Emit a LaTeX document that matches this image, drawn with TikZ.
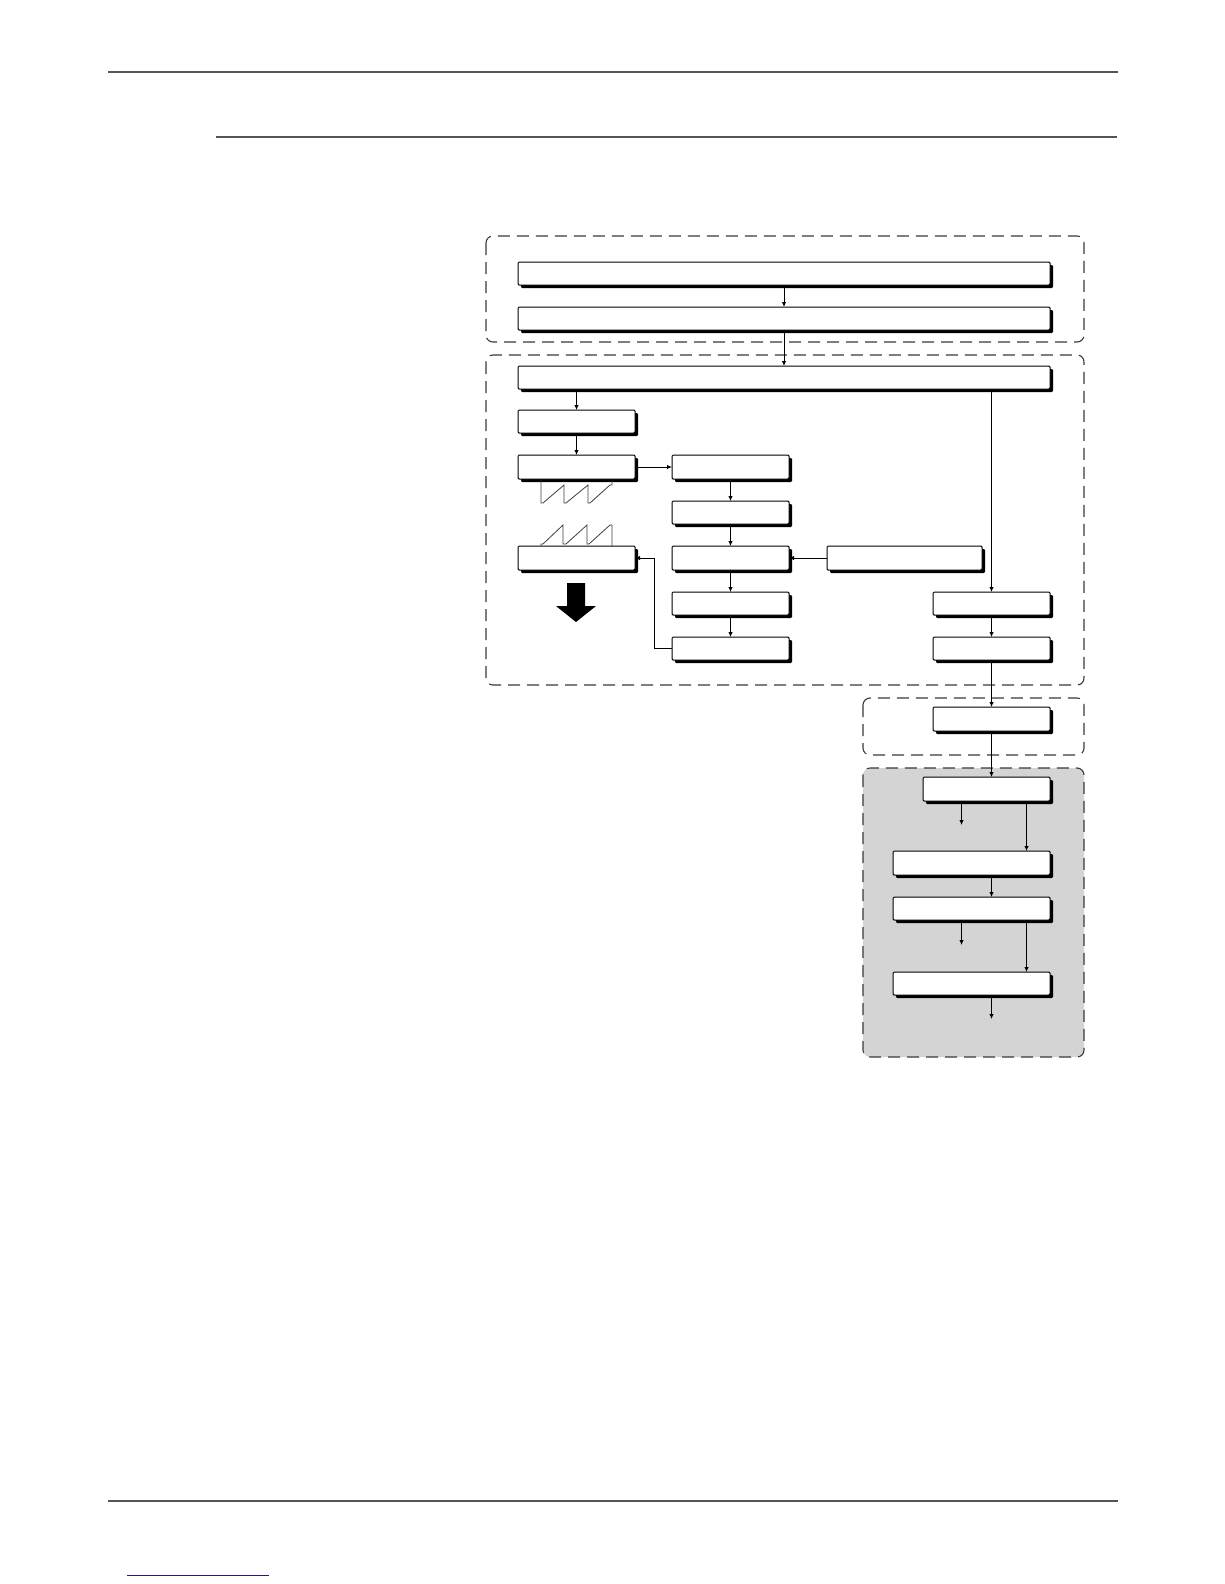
\documentclass[tikz,border=0pt]{standalone}
\usetikzlibrary{arrows.meta,shadows}
\definecolor{rulegray}{HTML}{555555}
\definecolor{dashgray}{HTML}{3A3A3A}
\definecolor{panelgray}{HTML}{D4D4D4}
\definecolor{linkblue}{HTML}{1A1A8C}
\tikzset{
  box/.style={draw=black, fill=white, line width=1pt, rounded corners=1.2pt,
    inner sep=0pt, outer sep=0pt,
    drop shadow={shadow xshift=3pt, shadow yshift=-3pt, fill=black, opacity=1}},
  group/.style={draw=dashgray, line width=1.1pt, dash pattern=on 12pt off 7pt, rounded corners=7pt},
  conn/.style={draw=black, line width=0.9pt, -{Latex[length=5pt,width=4.5pt]}},
  wave/.style={draw=black!75, line width=0.8pt, line join=miter},
  rule/.style={draw=rulegray, line width=2pt}
}
\newcommand\bx[5]{\node[box,minimum width={#4-#2},minimum height={#5-#3}] (#1) at ({(#2+#4)/2},{(#3+#5)/2}) {};}
\begin{document}
\begin{tikzpicture}[x=1pt,y=-1pt]
\useasboundingbox (0,0) rectangle (1224,1584);
\fill[white] (0,0) rectangle (1224,1584);

% page rules
\draw[rule] (108,72) -- (1118,72);
\draw[rule] (216,137) -- (1117,137);
\draw[rule] (108,1501) -- (1118,1501);
\draw[draw=linkblue, line width=1pt] (127,1575) -- (269,1575);

% dashed groups
\draw[group] (486,236) rectangle (1084,342);
\draw[group] (486,355) rectangle (1084,685);
\draw[group] (863,698) rectangle (1084,755);
\draw[group, fill=panelgray] (863,768) rectangle (1084,1057);

% boxes
\bx{A}{518}{262}{1050}{285}
\bx{B}{518}{307}{1050}{330}
\bx{C}{518}{366}{1050}{389}
\bx{D}{518}{410}{635}{433}
\bx{E}{518}{455}{635}{479}
\bx{F}{672}{455}{789}{479}
\bx{G}{672}{501}{789}{524}
\bx{H}{672}{546}{789}{570}
\bx{I}{672}{592}{789}{615}
\bx{J}{672}{637}{789}{660}
\bx{K}{827}{546}{982}{570}
\bx{L}{518}{546}{635}{570}
\bx{M}{933}{592}{1050}{615}
\bx{N}{933}{637}{1050}{660}
\bx{O}{933}{707}{1050}{731}
\bx{P}{923}{777}{1050}{801}
\bx{Q}{893}{851}{1050}{875}
\bx{R}{893}{897}{1050}{920}
\bx{S}{893}{972}{1050}{995}

\coordinate (col) at (991.5,0);
\coordinate (lc) at (961.5,0);
\coordinate (rc) at (1026.5,0);
\coordinate (bend) at (654,0);
\coordinate (P1) at (961.5,825);
\coordinate (R1) at (961.5,945);
\coordinate (S1) at (991.5,1019);

% connectors
\draw[conn] (A.south) -- (B.north);
\draw[conn] (B.south) -- (C.north);
\draw[conn] (C.south -| D.north) -- (D.north);
\draw[conn] (D.south) -- (E.north);
\draw[conn] (E.east) -- (F.west);
\draw[conn] (F.south) -- (G.north);
\draw[conn] (G.south) -- (H.north);
\draw[conn] (H.south) -- (I.north);
\draw[conn] (I.south) -- (J.north);
\draw[conn] (K.west) -- (H.east);
\draw[conn] (J.west) -- (J.west -| bend) -- (L.east -| bend) -- (L.east);
\draw[conn] (C.south -| col) -- (M.north -| col);
\draw[conn] (M.south) -- (N.north);
\draw[conn] (N.south) -- (O.north);
\draw[conn] (O.south -| col) -- (P.north -| col);
\draw[conn] (P.south -| lc) -- (P1);
\draw[conn] (P.south -| rc) -- (Q.north -| rc);
\draw[conn] (Q.south -| col) -- (R.north -| col);
\draw[conn] (R.south -| lc) -- (R1);
\draw[conn] (R.south -| rc) -- (S.north -| rc);
\draw[conn] (S.south -| col) -- (S1);

% sawtooth waveforms
\draw[wave] (541,480.5) -- (541,503) -- (543,503) -- (564,485) -- (564,503) -- (566,503) -- (588,485) -- (588,503) -- (590,503) -- (610,485) -- (612,485) -- (612,480.5);
\draw[wave] (541,546) -- (541,544) -- (543,544) -- (563,525) -- (563,544) -- (566,544) -- (587,525) -- (587,544) -- (589,544) -- (610,525) -- (612,525) -- (612,546);

% big black arrow
\fill[black] (567,583) -- (585,583) -- (585,606) -- (596,606) -- (576,622) -- (556,606) -- (567,606) -- cycle;
\end{tikzpicture}
\end{document}
